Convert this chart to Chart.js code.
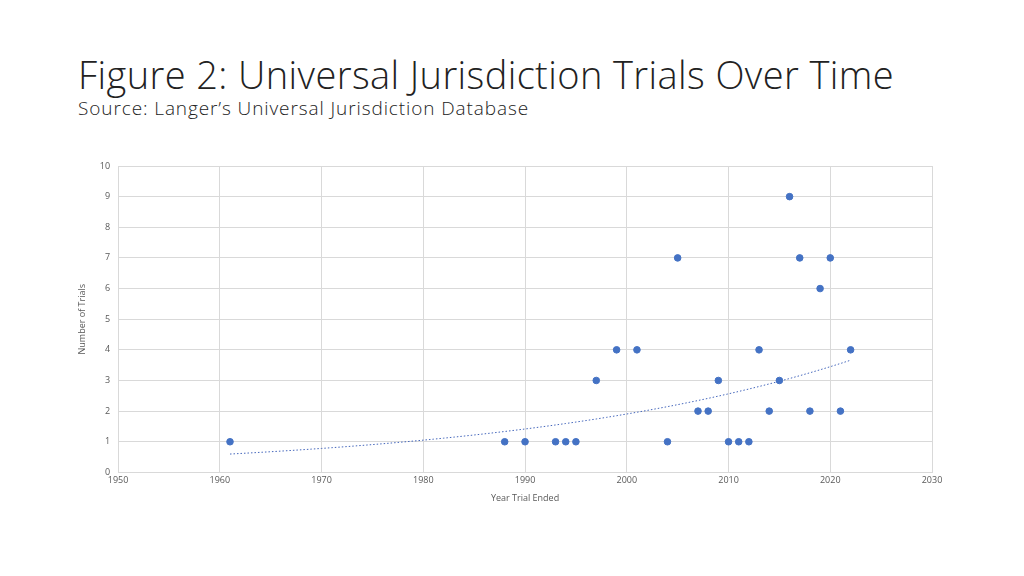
<!DOCTYPE html>
<html><head><meta charset="utf-8">
<script src="https://cdn.jsdelivr.net/npm/chart.js@4"></script>
<style>
body{margin:0;background:#fff;width:1024px;height:576px;overflow:hidden;font-family:"Open Sans",sans-serif;position:relative}
#t{position:absolute;left:78px;top:48px;font-size:38px;font-weight:300;color:#222;letter-spacing:0.4px;white-space:nowrap}
#s{position:absolute;left:78px;top:95px;font-size:19px;font-weight:300;color:#222;letter-spacing:0.9px;white-space:nowrap}
#w{position:absolute;left:0;top:0;width:1024px;height:576px}
</style></head><body>
<div id="t">Figure 2: Universal Jurisdiction Trials Over Time</div>
<div id="s">Source: Langer’s Universal Jurisdiction Database</div>
<div id="w"><canvas id="c"></canvas></div>
<script>
const years=[1961,1988,1990,1993,1994,1995,1997,1999,2001,2004,2005,2007,2008,2009,2010,2011,2012,2013,2014,2015,2016,2017,2018,2019,2020,2021,2022];
const trials=[1,1,1,1,1,1,3,4,4,1,7,2,2,3,1,1,1,4,2,3,9,7,2,6,7,2,4];
const xTicks=[1950,1960,1970,1980,1990,2000,2010,2020,2030];
// exponential least-squares trendline fitted to the data (as Excel does)
const n=years.length;let sx=0,sy=0,sxx=0,sxy=0;
years.forEach((x,i)=>{const l=Math.log(trials[i]);sx+=x;sy+=l;sxx+=x*x;sxy+=x*l;});
const b=(n*sxy-sx*sy)/(n*sxx-sx*sx),a=(sy-b*sx)/n;
const trend=[];for(let x=years[0];x<=years[n-1];x+=1)trend.push({x,y:Math.exp(a+b*x)});
new Chart(document.getElementById('c'),{
type:'scatter',
data:{datasets:[
{data:years.map((x,i)=>({x,y:trials[i]})),backgroundColor:'#4472c4',borderColor:'#4472c4',pointRadius:3.3},
{type:'line',data:trend,borderColor:'#4466bb',borderWidth:1,borderDash:[1.5,2],pointRadius:0,fill:false}
]},
options:{responsive:true,maintainAspectRatio:false,animation:false,
layout:{padding:{left:73,top:166,right:92,bottom:68}},
plugins:{legend:{display:false},tooltip:{enabled:false}},
scales:{
x:{type:'linear',min:1950,max:2030,afterBuildTicks:s=>{s.ticks=xTicks.map(v=>({value:v}));},
ticks:{font:{size:9,family:'Open Sans'},color:'#595959',callback:v=>String(v)},grid:{color:'#d9d9d9',drawTicks:false},border:{color:'#d9d9d9'},
title:{display:true,text:'Year Trial Ended',font:{size:9,family:'Open Sans'},color:'#595959'}},
y:{min:0,max:10,ticks:{stepSize:1,font:{size:9,family:'Open Sans'},color:'#595959',padding:8},grid:{color:'#d9d9d9',drawTicks:false},border:{display:false},
title:{display:true,text:'Number of Trials',font:{size:9,family:'Open Sans'},color:'#595959'}}
}}});
</script></body></html>
